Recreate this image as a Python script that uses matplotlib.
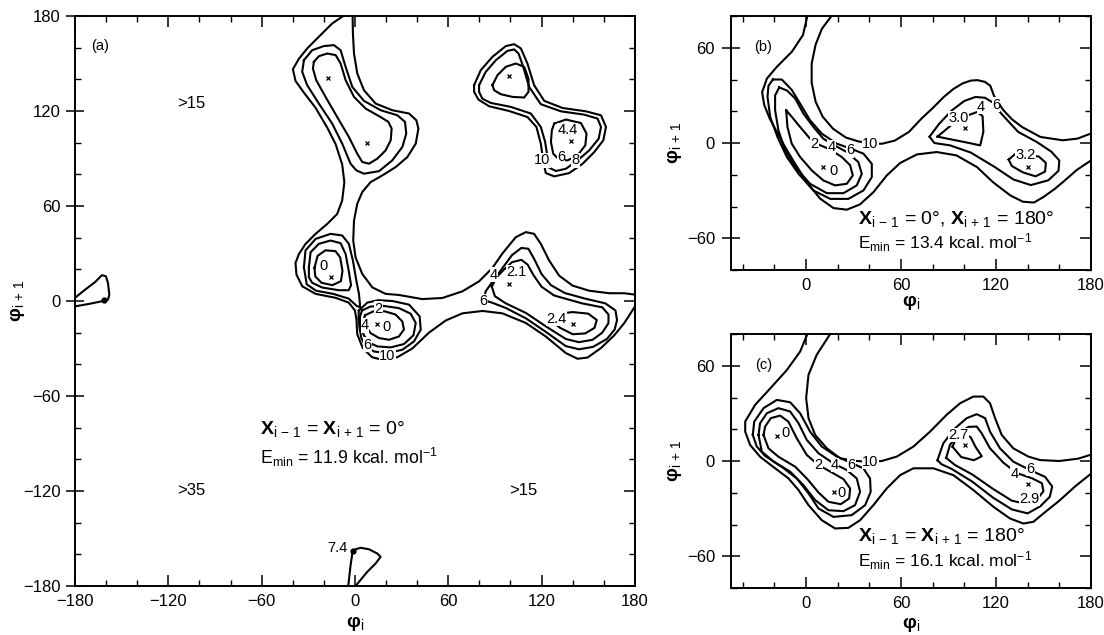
import matplotlib
matplotlib.use('Agg')
import matplotlib.pyplot as plt
from matplotlib.ticker import MultipleLocator

plt.rcParams['font.family'] = ['Liberation Sans', 'DejaVu Sans']
plt.rcParams['mathtext.fontset'] = 'custom'
plt.rcParams['mathtext.rm'] = 'Liberation Sans'
plt.rcParams['mathtext.it'] = 'Liberation Sans'
plt.rcParams['mathtext.bf'] = 'Liberation Sans:bold'

# ---------------- panel (a): chi(i-1) = chi(i+1) = 0 ----------------
# contour lines, (phi_i, phi_i+1) in degrees
a_outer = [(-7.5, 180), (-14.6, 175.3), (-23.2, 166.9), (-30.7, 159.5), (-36, 153), (-39.9, 146.4),
           (-38.2, 139), (-32.8, 131.6), (-25.3, 122), (-17.8, 109.5), (-12.4, 99), (-8.2, 86.3),
           (-6.8, 75), (-8.2, 63.5), (-11.4, 55), (-17.8, 48.7), (-25.3, 42.4), (-31.8, 36), (-36, 29.7),
           (-38.2, 24), (-37.6, 16.7), (-33.9, 9.3), (-25.3, 4.5), (-12.4, 2), (-4, -1), (0, -6), (1, -12),
           (1.5, -21), (5, -29.7), (11, -35.5), (17, -37), (27.3, -35.5), (36.9, -30), (47.6, -20),
           (58.4, -12.3), (69.1, -7.8), (82, -6.3), (94.8, -7.8), (109.9, -13.9), (122.7, -22.4),
           (135.6, -32.9), (143.1, -36.5), (149.6, -35.7), (158.2, -29.7), (166.7, -21.7),
           (173.2, -13.9), (180, -3.5)]
a_hole = [(-1.5, 180), (-1.3, 169), (-0.6, 156.3), (1.5, 143.7), (5.8, 133.1), (13.3, 124.7), (24, 120.5),
          (34.8, 118.4), (39.5, 114.1), (40.8, 108.9), (39.1, 99.4), (33.7, 90.9), (26.2, 84.6),
          (17.6, 79.3), (10.1, 75.1), (4.7, 68.8), (1.5, 61.4), (-0.6, 50.8), (-1.1, 38.2), (0.4, 27.6),
          (4.7, 17.1), (11.2, 8.6), (19.7, 4.5), (28.3, 3.8), (43.3, 1.2), (56.2, 1.9), (69.1, 6.1),
          (79.8, 12.4), (88.4, 20.9), (94.8, 30), (103.4, 40.3), (109.9, 43.5), (115.2, 42.4),
          (119.5, 36.1), (124.9, 25.5), (131.3, 16), (139.9, 9.7), (150.6, 6.5), (163.5, 4.9),
          (173.2, 4.9), (180, 4)]
a_blob_left = [(-180, 2), (-173.4, 7.2), (-167, 12), (-162.7, 16.3), (-160.1, 15.6), (-158.8, 11.4),
               (-157.9, 4), (-158.8, 0.8), (-162.7, -0.2), (-171.3, -1.9), (-180, -3.4)]
a_blob_bottom = [(-4.3, -180), (-2.8, -166.9), (-1.7, -159.5), (0.4, -156.8), (3.7, -155.9), (9, -156.8),
                 (14.4, -159.5), (16.5, -161.6), (13.3, -165.8), (7.9, -171.1), (2.6, -177.4), (0.4, -180)]
a_ul2 = [(-32.8, 152.1), (-27.5, 158.4), (-20, 161), (-13.5, 161.6), (-9.2, 158.4), (-6, 147.9),
         (-1.7, 135.2), (5.8, 126.4), (16.5, 120.5), (27.3, 117.3), (32.2, 113.1), (33, 105.7),
         (30.5, 97.3), (24, 88.8), (15.5, 82), (5.8, 80.4), (0.9, 82.5), (-2.8, 86.7), (-8.2, 99.4),
         (-14.6, 112), (-23.2, 124.7), (-30.7, 136.3), (-33.9, 144.7)]
a_ul3 = [(-26.4, 151), (-23.2, 154.6), (-17.8, 156.3), (-12.4, 155.3), (-9.2, 150), (-6, 139.5),
         (-0.6, 128.9), (6.9, 121.5), (16.5, 116.2), (21.5, 113.1), (23.6, 108.9), (23, 101.5),
         (19.7, 95.1), (14.4, 89.9), (9, 86.7), (4.7, 87.8), (1.5, 93), (-3.9, 103.6), (-11.4, 116.2),
         (-18.9, 128.9), (-24.9, 139.5), (-27, 146.8)]
a_u1 = [(-26, 21), (-24, 28.5), (-19, 32), (-12.5, 31.5), (-9.5, 27.5), (-8, 19), (-9, 12.5),
        (-14.5, 10), (-21.5, 11.5), (-25.5, 15.5)]
a_u2 = [(-29.6, 21.3), (-28.5, 30.8), (-23.2, 36.1), (-15.7, 38.2), (-9.2, 36.5), (-6, 29.7), (-4, 19.2),
        (-2.5, 10), (-4, 6.8), (-10.3, 6.8), (-21, 8.5), (-27.5, 11.5), (-29.6, 15)]
a_u3 = [(-32.8, 21.3), (-31.8, 31.9), (-25.3, 39.2), (-15.7, 42.4), (-8.2, 41.4), (-3.9, 36.1),
        (-1.3, 25.5), (0.9, 12.9), (2.6, 4.4), (3.4, -4), (1, -3), (-4, 1.5), (-14, 4.5), (-25, 6.5),
        (-31, 10.5)]
a_l2 = [(6.5, -9), (12, -6.5), (19, -6.5), (26, -8.5), (30.5, -12.9), (31.5, -18), (28.3, -22.4),
        (21.9, -24.5), (15.5, -23.4), (10.1, -20.3), (7, -16), (5.5, -12)]
a_l4 = [(4.5, -6), (10, -3.5), (17.6, -3), (28.3, -4.5), (35.8, -8), (39.1, -13.9), (37.6, -21.7),
        (31.5, -27.2), (23, -29.3), (14.4, -28.7), (9, -26.2), (5.8, -21.7), (3.6, -16), (3.2, -10)]
a_l6 = [(2.5, -6), (8, -1), (15, 0.5), (24, 0), (34.8, -2.3), (41.6, -9.7), (42.3, -18.1), (38, -25.5),
        (30.5, -30.8), (20.8, -32.9), (12.2, -31.9), (6.9, -28.7), (4.1, -23.4), (3, -17.1), (2.3, -11)]
a_r6 = [(83, 0.5), (84, 6), (89, 13), (95, 21), (101, 29), (107, 33.5), (111.5, 33), (115, 27), (120, 17),
        (126, 10), (135, 5), (148, 1.5), (161, -1.5), (167.5, -6), (168.5, -12), (167, -18), (162, -24),
        (153, -29), (144, -30.5), (135.6, -28.5), (122.7, -19.5), (110, -11), (97, -4.4), (88, -1)]
a_r4 = [(88, 9), (91, 15), (96, 20), (101, 24.5), (107, 26), (111, 23), (115, 16), (120, 9), (128, 3.5),
        (146, -1.5), (159, -4), (163, -8.5), (163, -14), (159, -20), (152.8, -24.5), (144, -26),
        (135.6, -24), (122.7, -16), (110, -7.6), (97, -1.5), (90, 3)]
a_r3 = [(127, -8.5), (140, -7), (150, -8), (155.5, -12), (154, -17), (148, -20.5), (140, -21), (132, -17),
        (126, -12.5)]
a_ur10 = [(76.6, 136.3), (80.9, 145.8), (88.4, 154.2), (97, 161), (102.4, 162.2), (106.7, 159.5),
          (110.9, 150), (115.2, 136.3), (121.7, 126.4), (133.5, 121.9), (148.5, 119.8), (158.2, 117.3),
          (161.4, 109.9), (159.7, 101.5), (153.9, 94.1), (146.4, 86.7), (137.8, 80.8), (128.1, 78.7),
          (122.7, 80.8), (121, 88.8), (119.5, 99.4), (116.7, 109.9), (110.9, 116.2), (99.1, 120),
          (86.3, 123), (79.4, 127.2), (76.6, 132.1)]
a_ur8 = [(79.8, 136.3), (84.1, 144.7), (90.6, 152.1), (98.1, 158), (102.4, 158.9), (105.2, 156.3),
         (108.2, 147.9), (112, 135.2), (119.5, 124.3), (132.4, 119.8), (147.4, 117.7), (156, 115.2),
         (158.2, 109.9), (156.7, 102.5), (150.6, 95.1), (143.1, 88.8), (135.6, 83.5), (129.2, 82.1),
         (124.9, 84.2), (123.8, 90.9), (122.3, 100.4), (119.5, 109.9), (113.1, 118.4), (100.2, 122.6),
         (87.3, 125.1), (81.9, 127.8), (79.8, 132.1)]
a_ur6a = [(88.4, 136.3), (91.6, 142.6), (97, 147.9), (103.4, 150), (108.8, 147.9), (111.6, 140.5),
          (111.6, 132.1), (108.8, 128.5), (101.3, 128.9), (93.8, 130.6), (89.5, 133.1)]
a_ur6b = [(128.1, 112), (135.6, 114.6), (145.3, 112.4), (148.9, 105.7), (148.1, 98.3), (143.1, 92),
          (136.7, 88.8), (131.3, 89.2), (127.5, 93), (126, 100.4), (126.6, 107.8)]
a_open = [a_outer, a_hole, a_blob_left, a_blob_bottom]
a_closed = [a_ul2, a_ul3, a_u1, a_u2, a_u3, a_l2, a_l4, a_l6, a_r6, a_r4, a_r3,
            a_ur10, a_ur8, a_ur6a, a_ur6b]
a_minima = [(-17, 141), (8, 100), (-15.5, 15), (14.4, -14.6), (99, 10.8), (140.3, -14.6), (99, 142),
            (139, 101)]
a_dots = [(-1, -158), (-161.5, 0.5)]
a_labels = [('0', -20, 22), ('0', 20.2, -16.5), ('2', 15, -4.9), ('4', 6.4, -15.4), ('6', 8, -27.6),
            ('10', 20.8, -35), ('4', 89.5, 16.7), ('2.1', 104, 18.4), ('6', 82.6, 0), ('2.4', 129.6, -11.2),
            ('4.4', 136.7, 107.8), ('10', 120.6, 88.8), ('6', 132.4, 90.9), ('8', 142, 88.8),
            ('7.4', -11.4, -156.3)]
a_regions = [('>15', -105, 124.7), ('>35', -105, -120), ('>15', 108, -120)]

# ---------------- panel (b): chi(i-1) = 0, chi(i+1) = 180 ----------------
b_outer = [(0.8, 80), (-2, 68), (-9, 57.5), (-18.5, 48), (-24.8, 40.6), (-27.8, 32), (-26.5, 24),
           (-23, 15.4), (-18.5, 7), (-13.3, -2.5), (-7, -13), (0.4, -24.6), (8.8, -35), (17.3, -41),
           (25.7, -42), (34, -38.7), (42.5, -31), (51, -20.4), (59.4, -12.6), (70, -7.2), (82.5, -5.7),
           (95, -7.8), (108, -15.2), (118, -24.6), (129, -33), (137, -37), (144, -37.5), (150, -34),
           (157, -29), (163, -24), (171, -17), (180, -11)]
b_hole = [(16, 80), (10, 72), (6, 62), (3.5, 50), (3.5, 38), (6, 26), (10.5, 16.5), (17, 9), (25, 3.5),
          (33, 1), (40, 0), (47.8, -0.5), (56, 1.5), (65, 7), (73, 15.5), (80, 22), (87, 29), (93, 34),
          (98.8, 37.5), (104, 39.3), (108.2, 39.6), (113, 38.5), (116.4, 36), (118.8, 29.5),
          (124.6, 20.7), (130, 15), (136.4, 10.1), (148.1, 3.8), (162.2, 1.7), (171.6, 2.8), (180, 6)]
b_l2 = [(-12.6, 20.6), (-9, 16.4), (-3.8, 10.1), (2.5, 2.7), (8, -1), (15, -4), (22.5, -8.8), (27.8, -14),
        (29.5, -20.4), (25.7, -25.7), (18.3, -26.7), (10.9, -23.6), (3.6, -17.3), (-3.8, -8.8),
        (-9.1, -0.4), (-11.8, 10.1)]
b_l4 = [(-17, 35), (-12, 33), (-6.9, 28), (-1.7, 18.5), (4.6, 10.1), (10.9, 2.7), (18, -1.5), (25.7, -5.7),
        (33, -12), (35.2, -19.4), (32, -26.7), (23.6, -31.6), (13.1, -31.6), (2.5, -25.7), (-6.9, -15.2),
        (-13.3, -4.6), (-17.5, 8), (-19.6, 20.6), (-19.6, 30)]
b_l6 = [(-21, 40), (-15.4, 40), (-9.1, 33.5), (-3.8, 24.8), (2.5, 14.3), (9.9, 5.9), (19.4, -0.4),
        (28, -3.5), (36.2, -6.7), (41.5, -13.1), (41.5, -21.5), (36.2, -29.9), (26.7, -35.2),
        (15.2, -35.2), (4.6, -29.9), (-4.8, -19.4), (-12.2, -8.8), (-18.1, 3.8), (-22.7, 16.4),
        (-24.4, 29.1), (-23.8, 36)]
b_r6 = [(78, 4), (84, 12), (92, 20.5), (100, 26.5), (107, 29), (113, 28.5), (118, 25.5), (122, 20),
        (127, 14.5), (134, 7), (146, 0.5), (155, -5.5), (160, -11), (159.5, -17.5), (153, -23.5),
        (142, -26.5), (131, -23), (119, -15), (104, -6), (91, -1.5), (81, 0)]
b_r4a = [(83, 4), (92, 11.5), (101, 17), (108, 19.5), (111.5, 17), (112, 7), (110, -1.5), (103, 0), (93, 2)]
b_r4b = [(128, -10.5), (132, -7), (147, -8.5), (151.5, -12.5), (151, -18), (145, -21), (137, -18.5),
         (130, -14.5)]
b_open = [b_outer, b_hole]
b_closed = [b_l2, b_l4, b_l6, b_r6, b_r4a, b_r4b]
b_minima = [(10.9, -15.2), (100.4, 9.7), (140, -15.2)]
b_labels = [('2', 5.3, -0.4), ('4', 16.2, -2.5), ('6', 27.8, -4.6), ('10', 40.4, -0.4), ('0', 17.3, -17.9),
            ('3.0', 96.2, 15.5), ('4', 110.5, 22.7), ('6', 120, 24.2), ('3.2', 138.7, -7.8)]

# ---------------- panel (c): chi(i-1) = chi(i+1) = 180 ----------------
c_outer = [(0.8, 80), (-3.8, 68.9), (-12.2, 57.3), (-22.7, 45.7), (-32.2, 35.4), (-38.5, 24.9),
           (-38.5, 18.5), (-35.4, 10.1), (-29.1, 2.7), (-19.6, -4.6), (-11.2, -10.9), (-4.8, -18.3),
           (1.5, -27.8), (9.9, -37.3), (18.3, -42.5), (26.7, -42.1), (34.1, -37.3), (42.5, -27.8),
           (50.9, -17.3), (59.4, -8.9), (67.8, -4.6), (80.4, -4.6), (93, -8.9), (105.7, -18.3),
           (118.3, -28.8), (128.8, -36.2), (137.3, -39.4), (143.6, -38.3), (150, -33), (160, -25),
           (170, -16), (180, -8)]
c_hole = [(15.2, 80), (6.7, 66.9), (1.5, 54.3), (0, 39.6), (1.5, 27), (5.7, 16.4), (13.1, 8), (21.5, 1.7),
          (32, 0), (40, -0.5), (47.8, 0), (57.3, 2.8), (67.8, 9.1), (78.3, 18.5), (88.8, 29.1),
          (97.3, 36.4), (105.7, 40.6), (112, 40.6), (116.2, 36.4), (119.4, 27), (123.6, 16.4),
          (130.9, 8), (140.4, 2.8), (147.8, 0.6), (160, 0), (172, 1.5), (180, 4)]
c_l2 = [(-26.9, 16.4), (-25.9, 21.7), (-22.3, 27), (-16.4, 28.6), (-11.2, 24.8), (-5.9, 14.3), (0.4, 3.8),
        (7.8, -2.5), (16.2, -7.2), (23.6, -11.4), (27.8, -17.3), (27.2, -23.6), (21.9, -27.2),
        (14.1, -25.7), (7.8, -19.8), (0.8, -11.4), (-6.9, -3.6), (-17.5, 2.7), (-23.8, 8)]
c_l4 = [(-30.1, 16.4), (-29.1, 23.8), (-24.8, 30.1), (-17.5, 33.3), (-10.1, 31.2), (-4.8, 23.8),
        (0.4, 13.3), (7.8, 4.9), (17.3, -1.5), (25.7, -5.7), (32, -11), (34.1, -19.4), (30.9, -27.8),
        (23.6, -31.6), (14.1, -31), (5.7, -24.6), (-1.7, -15.2), (-10.1, -6.7), (-20.6, -0.4), (-28, 5.9)]
c_l6 = [(-33.7, 16.4), (-32.8, 24.8), (-26.9, 33.3), (-18.5, 38.5), (-10.1, 37), (-3.8, 30.1), (2.5, 18.5),
        (9.9, 9.1), (19.4, 2.8), (28, -1), (36.2, -4.6), (40.4, -11), (40.8, -19.4), (37.3, -27.8),
        (28.8, -34.1), (17.3, -35.2), (7.8, -29.9), (1.5, -20.4), (-5.9, -11), (-15.4, -3.6),
        (-25.9, 3.2), (-31.2, 9.1)]
c_r6 = [(83, 0.5), (86.7, 11.2), (94.1, 20.6), (101.5, 27), (107.8, 29.5), (113.1, 27), (116.2, 18.5),
        (122.5, 8), (130.9, -0.4), (141.5, -5.7), (151, -10), (155.5, -16), (154, -22.5), (148, -28.5),
        (140, -33), (130, -30.5), (118, -23), (105, -13), (92, -5), (85.5, -2)]
c_r4 = [(88.5, 2), (90.9, 10.1), (96.2, 17), (102.5, 21.5), (107.8, 21.7), (110.9, 17.5), (116.2, 8),
        (124.6, -1), (133, -7.5), (143, -11), (149, -14), (150, -19), (146, -24), (139, -27), (130, -25),
        (118, -17.5), (105, -8.5), (94, -2.5)]
c_r3 = [(92.5, 9), (95, 15), (100, 17), (104, 15), (107, 9), (111, 3), (106, 0.5), (98, 2.5)]
c_open = [c_outer, c_hole]
c_closed = [c_l2, c_l4, c_l6, c_r6, c_r4, c_r3]
c_minima = [(-18.5, 16), (17.3, -19.8), (100.4, 10.1), (140, -14.5)]
c_labels = [('2', 7.8, -2.5), ('4', 18.3, -2.5), ('6', 28.8, -2.5), ('10', 40.4, -0.4), ('0', -13.3, 17.5),
            ('0', 22.5, -20), ('2.7', 96.2, 16.4), ('4', 131.6, -8), ('6', 141.6, -4.8), ('2.9', 141, -23.8)]


def draw_lines(ax, open_lines, closed_lines):
    for pts in open_lines + [p + p[:1] for p in closed_lines]:
        xs = [p[0] for p in pts]
        ys = [p[1] for p in pts]
        ax.plot(xs, ys, color='black', lw=1.5, solid_joinstyle='round', zorder=2)


def draw_labels(ax, labels, size=10.5):
    for s, x, y in labels:
        ax.text(x, y, s, ha='center', va='center', fontsize=size, zorder=5,
                bbox=dict(fc='white', ec='none', pad=0.2))


def style(ax, xlim, ylim, xticks, yticks, ypad):
    ax.set_xlim(*xlim)
    ax.set_ylim(*ylim)
    ax.set_xticks(xticks)
    ax.set_yticks(yticks)
    ax.xaxis.set_minor_locator(MultipleLocator(20))
    ax.yaxis.set_minor_locator(MultipleLocator(20))
    ax.tick_params(which='both', direction='in', top=True, right=False, labelsize=12)
    ax.tick_params(which='major', length=8, width=1.1)
    ax.tick_params(which='minor', length=4, width=1)
    # left major ticks cross the frame as in the original
    ax.tick_params(axis='y', which='major', direction='inout', length=13)
    ax.tick_params(axis='x', pad=6)
    ax.tick_params(axis='y', pad=ypad)
    # right-hand ticks point inward only
    right = ax.secondary_yaxis('right')
    right.set_yticks(yticks)
    right.yaxis.set_minor_locator(MultipleLocator(20))
    right.tick_params(which='both', direction='in', labelright=False)
    right.tick_params(which='major', length=8, width=1.1)
    right.tick_params(which='minor', length=4, width=1)
    right.spines['right'].set_linewidth(1.4)
    for sp in ax.spines.values():
        sp.set_linewidth(1.4)


fig = plt.figure(figsize=(11.04, 6.35), dpi=100)
ax_a = fig.add_axes([0.0679, 0.0772, 0.5072, 0.8976])
ax_b = fig.add_axes([0.6621, 0.5748, 0.3261, 0.4])
ax_c = fig.add_axes([0.6621, 0.074, 0.3261, 0.4])

xlab = r'$\mathbf{φ}_{\mathrm{i}}$'
ylab = r'$\mathbf{φ}_{\mathrm{i\,+\,1}}$'

# panel (a)
draw_lines(ax_a, a_open, a_closed)
ax_a.plot([p[0] for p in a_minima], [p[1] for p in a_minima], 'x', color='black', ms=3, mew=0.9)
ax_a.plot([p[0] for p in a_dots], [p[1] for p in a_dots], 'o', color='black', ms=3.5)
draw_labels(ax_a, a_labels)
for s, x, y in a_regions:
    ax_a.text(x, y, s, ha='center', va='center', fontsize=12)
ax_a.text(-164, 161, '(a)', ha='center', va='center', fontsize=10.5)
ax_a.text(-61, -81, r'$\mathbf{Χ}_{\mathrm{i\,-\,1}}$ = $\mathbf{Χ}_{\mathrm{i\,+\,1}}$ = 0°',
          ha='left', va='center', fontsize=14)
ax_a.text(-61, -99, r'E$_{\mathrm{min}}$ = 11.9 kcal. mol$^{-1}$', ha='left', va='center', fontsize=12.8)
style(ax_a, (-180, 180), (-180, 180), range(-180, 181, 60), range(-180, 181, 60), 4)
ax_a.set_xlabel(xlab, fontsize=14)
ax_a.set_ylabel(ylab, fontsize=14)
ax_a.xaxis.set_label_coords(0.5, -0.05)
ax_a.yaxis.set_label_coords(-0.085, 0.5)

# panel (b)
draw_lines(ax_b, b_open, b_closed)
ax_b.plot([p[0] for p in b_minima], [p[1] for p in b_minima], 'x', color='black', ms=3, mew=0.9)
draw_labels(ax_b, b_labels)
ax_b.text(-27, 60.6, '(b)', ha='center', va='center', fontsize=10.5)
ax_b.text(33, -48, r'$\mathbf{Χ}_{\mathrm{i\,-\,1}}$ = 0°, $\mathbf{Χ}_{\mathrm{i\,+\,1}}$ = 180°',
          ha='left', va='center', fontsize=14)
ax_b.text(33, -63, r'E$_{\mathrm{min}}$ = 13.4 kcal. mol$^{-1}$', ha='left', va='center', fontsize=12.5)
style(ax_b, (-47.5, 180), (-80, 80), [0, 60, 120, 180], [-60, 0, 60], 5)
ax_b.set_xlabel(xlab, fontsize=14)
ax_b.set_ylabel(ylab, fontsize=14)
ax_b.xaxis.set_label_coords(0.5, -0.09)
ax_b.yaxis.set_label_coords(-0.13, 0.5)

# panel (c)
draw_lines(ax_c, c_open, c_closed)
ax_c.plot([p[0] for p in c_minima], [p[1] for p in c_minima], 'x', color='black', ms=3, mew=0.9)
draw_labels(ax_c, c_labels)
ax_c.text(-27, 60.6, '(c)', ha='center', va='center', fontsize=10.5)
ax_c.text(33, -47, r'$\mathbf{Χ}_{\mathrm{i\,-\,1}}$ = $\mathbf{Χ}_{\mathrm{i\,+\,1}}$ = 180°',
          ha='left', va='center', fontsize=14)
ax_c.text(33, -63, r'E$_{\mathrm{min}}$ = 16.1 kcal. mol$^{-1}$', ha='left', va='center', fontsize=12.5)
style(ax_c, (-47.5, 180), (-80, 80), [0, 60, 120, 180], [-60, 0, 60], 5)
ax_c.set_xlabel(xlab, fontsize=14)
ax_c.set_ylabel(ylab, fontsize=14)
ax_c.xaxis.set_label_coords(0.5, -0.105)
ax_c.yaxis.set_label_coords(-0.13, 0.5)

fig.savefig('out.png', dpi=100)
